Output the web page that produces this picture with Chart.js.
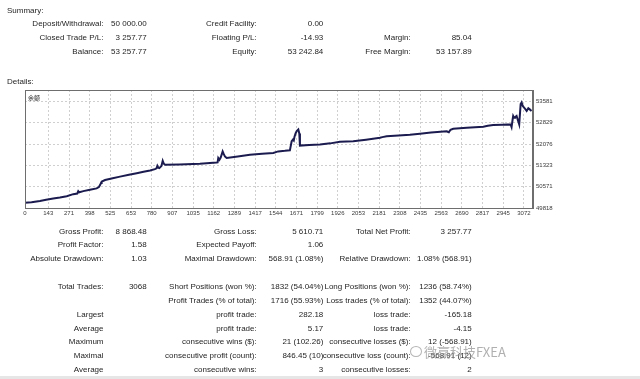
<!DOCTYPE html>
<html>
<head>
<meta charset="utf-8">
<script src="https://cdn.jsdelivr.net/npm/chart.js@4"></script>
<style>
  html,body{margin:0;padding:0;background:#fff;}
  #wrap{position:relative;width:640px;height:379px;overflow:hidden;background:#fff;}
  #c{position:absolute;left:0;top:0;}
  .t{position:absolute;font-family:"Liberation Sans",Arial,sans-serif;font-size:8px;line-height:10px;color:#1e1e1e;white-space:nowrap;}
  .r{text-align:right;}
  #band{position:absolute;left:0;top:376px;width:640px;height:3px;background:#e6e6e6;}
  #wm{position:absolute;left:424px;top:343px;font-family:"Noto Sans CJK SC","Liberation Sans",sans-serif;font-size:13px;line-height:18px;color:rgba(150,150,150,0.75);white-space:nowrap;}
  #wmi{position:absolute;left:410px;top:346px;width:10px;height:9px;border:1.2px solid rgba(150,150,150,0.7);border-radius:50%;}
</style>
</head>
<body>
<div id="wrap">
<canvas id="c" width="640" height="379"></canvas>
<div id="band"></div>
</div>
<script>
// ---- chart data ----
const xTickLabels = [0,143,271,398,525,653,780,907,1035,1162,1289,1417,1544,1671,1799,1926,2053,2181,2308,2435,2563,2690,2817,2945,3072];
const yTickLabels = [49818,50571,51323,52076,52829,53581];
const tradeIndex = [0,40,92,130,174,215,257,297,322,328,334,359,400,441,455,462,468,472,493,540,585,640,688,730,770,800,810,815,821,827,840,848,855,862,950,1077,1180,1186,1190,1197,1205,1217,1224,1231,1242,1310,1385,1460,1529,1545,1559,1600,1631,1642,1650,1655,1659,1666,1673,1683,1689,1693,1750,1816,1880,1939,2021,2100,2186,2200,2227,2300,2370,2432,2500,2596,2603,2610,2620,2637,2720,2822,2850,2883,2940,2990,2996,3003,3006,3012,3017,3027,3036,3043,3052,3058,3065,3072,3082,3089,3099,3108,3119];
const balance = [50000,50025,50068,50110,50154,50190,50236,50307,50330,50414,50372,50414,50460,50511,50560,50628,50700,50746,50807,50870,50925,50990,51046,51095,51139,51189,51220,51307,51240,51225,51300,51485,51380,51342,51355,51378,51425,51430,51582,51521,51600,51817,51720,51639,51582,51640,51699,51730,51760,51790,51817,51835,51853,52174,52235,52200,52324,52450,52531,52592,52450,52021,52040,52056,52100,52153,52174,52230,52296,52320,52353,52380,52400,52438,52480,52531,52510,52490,52580,52617,52650,52688,52720,52745,52760,52770,52674,52960,53067,53000,53020,53067,52900,52770,53484,53545,53420,53367,53300,53245,53342,53300,53245];
const seriesName = "余额";

// ---- report text ----
const summaryRows = [
  [24, ["Deposit/Withdrawal:","50 000.00","Credit Facility:","0.00","",""]],
  [38, ["Closed Trade P/L:","3 257.77","Floating P/L:","-14.93","Margin:","85.04"]],
  [52, ["Balance:","53 257.77","Equity:","53 242.84","Free Margin:","53 157.89"]]
];
const detailRows = [
  [231.7, ["Gross Profit:","8 868.48","Gross Loss:","5 610.71","Total Net Profit:","3 257.77"]],
  [245.3, ["Profit Factor:","1.58","Expected Payoff:","1.06","",""]],
  [259, ["Absolute Drawdown:","1.03","Maximal Drawdown:","568.91 (1.08%)","Relative Drawdown:","1.08% (568.91)"]],
  [287.3, ["Total Trades:","3068","Short Positions (won %):","1832 (54.04%)","Long Positions (won %):","1236 (58.74%)"]],
  [301, ["","","Profit Trades (% of total):","1716 (55.93%)","Loss trades (% of total):","1352 (44.07%)"]],
  [315, ["Largest","","profit trade:","282.18","loss trade:","-165.18"]],
  [328.7, ["Average","","profit trade:","5.17","loss trade:","-4.15"]],
  [342.3, ["Maximum","","consecutive wins ($):","21 (102.26)","consecutive losses ($):","12 (-568.91)"]],
  [356, ["Maximal","","consecutive profit (count):","846.45 (10)","consecutive loss (count):","-568.91 (12)"]],
  [370, ["Average","","consecutive wins:","3","consecutive losses:","2"]]
];
const colRight = [103.5,146.7,256.7,323.3,410.7,471.7];

const wrap = document.getElementById('wrap');
function addText(str, x, y, right){
  if(!str) return;
  const d = document.createElement('div');
  d.className = 't' + (right ? ' r' : '');
  d.textContent = str;
  d.style.top = (y - 5) + 'px';
  if(right){ d.style.right = (640 - x) + 'px'; } else { d.style.left = x + 'px'; }
  wrap.appendChild(d);
}
addText("Summary:", 7, 11, false);
addText("Details:", 7, 82, false);
[...summaryRows, ...detailRows].forEach(([y, cells]) => {
  cells.forEach((s, i) => addText(s, colRight[i], y, true));
});
const nm = document.createElement('div');
nm.className = 't'; nm.textContent = seriesName;
nm.style.left = '28px'; nm.style.top = '93px'; nm.style.fontSize = '6px';
nm.style.fontFamily = '"Noto Sans CJK SC",sans-serif';
wrap.appendChild(nm);
const wmi = document.createElement('div'); wmi.id = 'wmi'; wrap.appendChild(wmi);
const wm = document.createElement('div'); wm.id = 'wm'; wm.textContent = '微赢科技FXEA'; wrap.appendChild(wm);

// ---- chart ----
const boxPlugin = {
  id: 'box',
  afterDraw(chart){
    const a = chart.chartArea, ctx = chart.ctx;
    ctx.save();
    ctx.strokeStyle = '#6e6e6e';
    ctx.lineWidth = 1;
    ctx.strokeRect(Math.round(a.left) + 0.5, Math.round(a.top) + 0.5, Math.round(a.right - a.left) - 1, Math.round(a.bottom - a.top));
    ctx.restore();
  }
};
const tickFont = {family: '"Liberation Sans", Arial, sans-serif', size: 6};
new Chart(document.getElementById('c'), {
  type: 'line',
  data: {
    datasets: [{
      label: seriesName,
      data: tradeIndex.map((t, i) => ({x: t, y: balance[i]})),
      borderColor: '#1b1b4f',
      borderWidth: 2,
      pointRadius: 0,
      tension: 0,
      fill: false
    }]
  },
  options: {
    responsive: false,
    animation: false,
    devicePixelRatio: 1,
    layout: {padding: {left: 25, top: 90, right: 0, bottom: 159}},
    plugins: {legend: {display: false}, tooltip: {enabled: false}},
    scales: {
      x: {
        type: 'linear', min: 0, max: 3128,
        afterBuildTicks: s => { s.ticks = xTickLabels.map(v => ({value: v})); },
        afterFit: s => { s.height = 12; },
        ticks: {font: tickFont, color: '#3a3a3a', padding: 2, maxRotation: 0, autoSkip: false, callback: v => String(v)},
        grid: {color: '#cfcfcf', drawTicks: false, lineWidth: 1},
        border: {display: true, color: '#6e6e6e', dash: [2, 2]}
      },
      y: {
        type: 'linear', position: 'right', min: 49818, max: 53984,
        afterBuildTicks: s => { s.ticks = yTickLabels.map(v => ({value: v})); },
        afterFit: s => { s.width = 107; },
        ticks: {font: tickFont, color: '#3a3a3a', padding: 3, callback: v => String(v)},
        grid: {color: '#cfcfcf', drawTicks: false, lineWidth: 1},
        border: {display: true, color: '#6e6e6e', dash: [2, 2]}
      }
    }
  },
  plugins: [boxPlugin]
});
</script>
</body>
</html>
